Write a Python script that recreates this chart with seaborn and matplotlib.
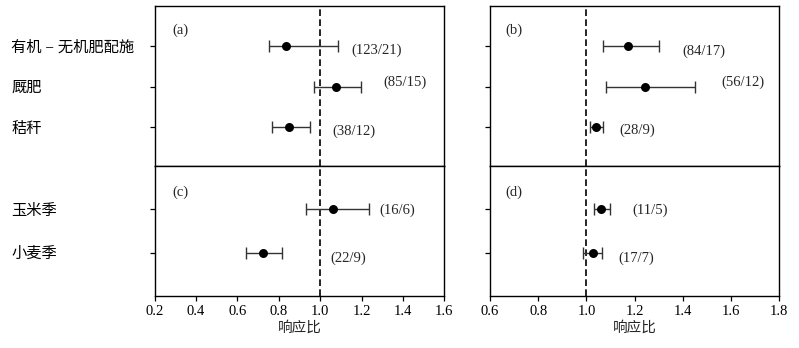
import matplotlib
matplotlib.use("Agg")
import matplotlib.pyplot as plt
import seaborn as sns
import pandas as pd

# ---------------- data ----------------
treat_labels = ["有机 − 无机肥配施", "厩肥", "秸秆"]
season_labels = ["玉米季", "小麦季"]

# panel (a)
a_mean = [0.835, 1.076, 0.851]
a_low = [0.751, 0.970, 0.765]
a_high = [1.087, 1.197, 0.951]
a_n = ["(123/21)", "(85/15)", "(38/12)"]

# panel (b)
b_mean = [1.171, 1.242, 1.040]
b_low = [1.070, 1.083, 1.015]
b_high = [1.300, 1.451, 1.068]
b_n = ["(84/17)", "(56/12)", "(28/9)"]

# panel (c)
c_mean = [1.063, 0.722]
c_low = [0.931, 0.641]
c_high = [1.236, 0.815]
c_n = ["(16/6)", "(22/9)"]

# panel (d)
d_mean = [1.062, 1.026]
d_low = [1.030, 0.987]
d_high = [1.097, 1.065]
d_n = ["(11/5)", "(17/7)"]

x_label = "响应比"
left_ticks = [0.2, 0.4, 0.6, 0.8, 1.0, 1.2, 1.4, 1.6]
right_ticks = [0.6, 0.8, 1.0, 1.2, 1.4, 1.6, 1.8]

# ---------------- layout (positions of annotations) ----------------
a_txt_x = [1.152, 1.303, 1.060]
a_txt_dy = [0.09, -0.10, 0.09]
b_txt_x = [1.398, 1.558, 1.135]
b_txt_dy = [0.12, -0.12, 0.07]
c_txt_x = [1.286, 1.051]
c_txt_dy = [0.02, 0.14]
d_txt_x = [1.192, 1.132]
d_txt_dy = [0.02, 0.13]

sns.set_style("ticks")
plt.rcParams["font.family"] = ["Liberation Serif", "Noto Sans CJK SC"]
plt.rcParams["font.size"] = 10
plt.rcParams["axes.linewidth"] = 1.0
plt.rcParams["xtick.major.width"] = 0.9
plt.rcParams["ytick.major.width"] = 0.9
plt.rcParams["xtick.major.size"] = 3.5
plt.rcParams["ytick.major.size"] = 3.5
plt.rcParams["xtick.direction"] = "out"
plt.rcParams["ytick.direction"] = "out"
plt.rcParams["axes.edgecolor"] = "black"
plt.rcParams["xtick.color"] = "black"
plt.rcParams["ytick.color"] = "black"

fig = plt.figure(figsize=(7.99, 3.48), dpi=100)
L1, R1 = 0.1936, 0.5561
L2, R2 = 0.6133, 0.9753
TOP, MID, BOT = 0.9828, 0.5221, 0.1503

ax_a = fig.add_axes([L1, MID, R1 - L1, TOP - MID])
ax_b = fig.add_axes([L2, MID, R2 - L2, TOP - MID])
ax_c = fig.add_axes([L1, BOT, R1 - L1, MID - BOT])
ax_d = fig.add_axes([L2, BOT, R2 - L2, MID - BOT])


def draw(ax, labels, mean, low, high, ntext, tx, tdy, letter, xlim, xticks,
         show_ylabels, show_xticks, ylim, letter_y):
    df = pd.DataFrame({"label": labels, "mean": mean, "low": low, "high": high,
                       "pos": list(range(len(labels)))})
    xerr = [[m - l for m, l in zip(mean, low)], [h - m for h, m in zip(high, mean)]]
    ax.errorbar(df["mean"], df["pos"], xerr=xerr, fmt="none", ecolor="#333333",
                elinewidth=1.0, capsize=4.5, capthick=1.0, zorder=2)
    sns.scatterplot(data=df, x="mean", y="pos", ax=ax, color="black", s=42,
                    edgecolor="black", linewidth=0, zorder=3, legend=False)
    ax.axvline(1.0, color="black", linestyle=(0, (4, 2)), linewidth=1.2, zorder=1)
    for i, t in enumerate(ntext):
        ax.text(tx[i], i + tdy[i], t, ha="left", va="center", fontsize=10.5)
    ax.text(0.06 if xlim[0] < 0.5 else 0.052, letter_y, letter, transform=ax.transAxes,
            ha="left", va="center", fontsize=10.5)
    ax.set_xlim(*xlim)
    ax.set_ylim(*ylim)
    ax.set_yticks(range(len(labels)))
    if show_ylabels:
        ax.set_yticklabels(labels, fontsize=11)
    else:
        ax.set_yticklabels([])
    ax.set_xticks(xticks)
    if show_xticks:
        ax.set_xticklabels([f"{v:.1f}" for v in xticks], fontsize=10.5)
        ax.set_xlabel(x_label, fontsize=10.5, labelpad=2)
    else:
        ax.tick_params(axis="x", length=0, labelbottom=False)
        ax.set_xlabel("")
    ax.set_ylabel("")
    for s in ax.spines.values():
        s.set_visible(True)
        s.set_color("black")


draw(ax_a, treat_labels, a_mean, a_low, a_high, a_n, a_txt_x, a_txt_dy, "(a)",
     (0.2, 1.6), left_ticks, True, False, (2.97, -1.0), 0.846)
draw(ax_b, treat_labels, b_mean, b_low, b_high, b_n, b_txt_x, b_txt_dy, "(b)",
     (0.6, 1.8), right_ticks, False, False, (2.97, -1.0), 0.846)
draw(ax_c, season_labels, c_mean, c_low, c_high, c_n, c_txt_x, c_txt_dy, "(c)",
     (0.2, 1.6), left_ticks, True, True, (2.0, -1.0), 0.80)
draw(ax_d, season_labels, d_mean, d_low, d_high, d_n, d_txt_x, d_txt_dy, "(d)",
     (0.6, 1.8), right_ticks, False, True, (2.0, -1.0), 0.80)

# align y tick labels to the left edge of the figure
for ax in (ax_a, ax_c):
    ax.tick_params(axis="y", pad=0)
    for lab in ax.get_yticklabels():
        lab.set_horizontalalignment("left")
        lab.set_x(-0.478)

fig.savefig("out.png", dpi=100)
